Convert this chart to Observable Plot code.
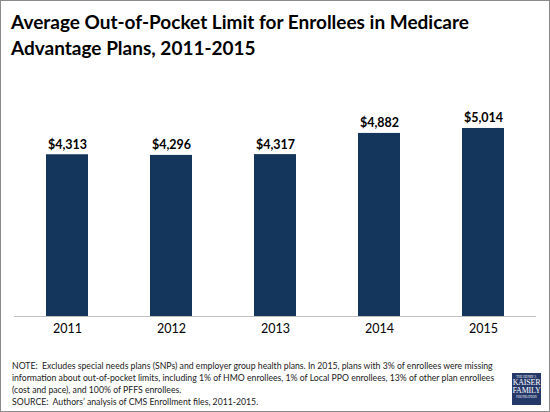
<!DOCTYPE html>
<html>
<head>
<meta charset="utf-8">
<script src="https://cdn.jsdelivr.net/npm/d3@7"></script>
<script src="https://cdn.jsdelivr.net/npm/@observablehq/plot@0.6"></script>
<style>
  html, body { margin: 0; padding: 0; background: #fff; }
  #wrap { position: relative; width: 550px; height: 412px; overflow: hidden; background: #fff; font-family: Lato, "Open Sans", sans-serif; }
  #frame { position: absolute; left: 0; top: 0; width: 550px; height: 412px; box-sizing: border-box; border: 1px solid #8a8a8a; pointer-events: none; }
  #title { position: absolute; left: 11px; top: 9px; font-size: 19px; line-height: 26px; font-weight: 700; color: #000; white-space: nowrap; }
  #chart { position: absolute; left: 0; top: 60px; }
  #note { position: absolute; left: 12px; top: 360px; font-size: 8.7px; line-height: 12px; color: #1a1a1a; white-space: nowrap; }
  #logo { position: absolute; left: 512px; top: 373px; width: 29px; height: 32px; background: #25386a; color: #fff; font-family: "Liberation Serif", "DejaVu Serif", serif; text-align: center; box-sizing: border-box; padding-top: 2px; }
  #logo .s { font-size: 3px; line-height: 4px; letter-spacing: 0.1px; }
  #logo .b { font-size: 8px; line-height: 8px; letter-spacing: -0.2px; }
</style>
</head>
<body>
<div id="wrap">
  <div id="title">Average Out-of-Pocket Limit for Enrollees in Medicare<br>Advantage Plans, 2011-2015</div>
  <div id="chart"></div>
  <div id="note">NOTE:&nbsp; Excludes special needs plans (SNPs) and employer group health plans. In 2015, plans with 3% of enrollees were missing<br>information about out-of-pocket limits, including 1% of HMO enrollees, 1% of Local PPO enrollees, 13% of other plan enrollees<br>(cost and pace), and 100% of PFFS enrollees.<br>SOURCE:&nbsp; Authors’ analysis of CMS Enrollment files, 2011-2015.</div>
  <div id="logo"><div class="s">THE HENRY J.</div><div class="b">KAISER</div><div class="b">FAMILY</div><div class="s">FOUNDATION</div></div>
  <div id="frame"></div>
</div>
<script>
const years = ["2011", "2012", "2013", "2014", "2015"];
const limits = [4313, 4296, 4317, 4882, 5014];

const data = years.map((y, i) => ({year: y, value: limits[i]}));
const fmt = d3.format("$,");

const chart = Plot.plot({
  width: 550,
  height: 290,
  marginLeft: 14,
  marginRight: 14,
  marginTop: 31,
  marginBottom: 34,
  style: {fontFamily: "Lato, 'Open Sans', sans-serif", background: "transparent"},
  x: {domain: years, paddingInner: 0.6, paddingOuter: 0.3, label: null},
  y: {domain: [0, 6000], axis: null},
  marks: [
    Plot.barY(data, {x: "year", y: "value", fill: "#15365c"}),
    Plot.ruleY([0], {stroke: "#c0c0c0", strokeWidth: 1}),
    Plot.text(data, {x: "year", y: "value", text: d => fmt(d.value), dy: -6, lineAnchor: "bottom", fontSize: 12.5, fontWeight: 700, fill: "#000"}),
    Plot.axisX({tickSize: 0, tickPadding: 8, fontSize: 12.5, color: "#000", label: null})
  ]
});
chart.querySelectorAll("text").forEach(t => t.setAttribute("fill", "#000"));
document.getElementById("chart").appendChild(chart);
</script>
</body>
</html>
